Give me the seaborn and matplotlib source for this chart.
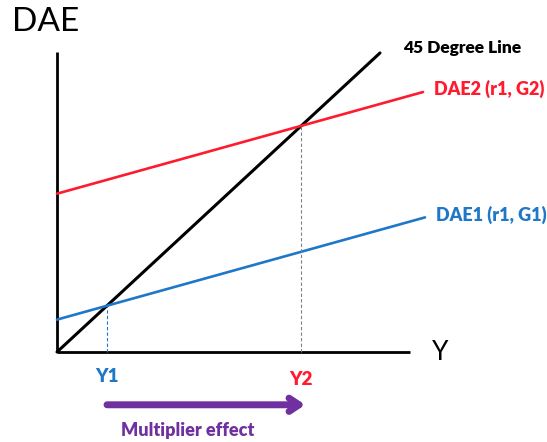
import numpy as np
import pandas as pd
import seaborn as sns
import matplotlib.pyplot as plt

# Keynesian cross: 45 degree line and two aggregate demand lines
slope = 0.3
intercepts = {"DAE1 (r1, G1)": 35, "DAE2 (r1, G2)": 171}
line_colors = {"DAE1 (r1, G1)": "#1f77c8", "DAE2 (r1, G2)": "#ff1a2e"}
x_end = {"DAE1 (r1, G1)": 368, "DAE2 (r1, G2)": 366}
x45_end = 323
x_axis_end = 353
y_axis_end = 324

# equilibrium incomes
Y1 = intercepts["DAE1 (r1, G1)"] / (1 - slope)
Y2 = intercepts["DAE2 (r1, G2)"] / (1 - slope)

sns.set_theme(style="white")
plt.rcParams['font.family'] = ['Lato', 'DejaVu Sans']

fig = plt.figure(figsize=(5.47, 4.42), dpi=100)
ax = fig.add_axes([0, 0, 1, 1])
ax.set_xlim(-57, 490)
ax.set_ylim(-97.2, 380.2)
ax.axis("off")

# axes
ax.plot([0, 0], [0, y_axis_end], color="black", lw=2, solid_capstyle="butt")
ax.plot([0, x_axis_end], [0, 0], color="black", lw=2, solid_capstyle="butt")

# 45 degree line
d45 = pd.DataFrame({"x": [0, x45_end], "y": [0, x45_end]})
sns.lineplot(data=d45, x="x", y="y", color="black", lw=2.2, ax=ax)

for name, a in intercepts.items():
    xs = np.array([0, x_end[name]])
    df = pd.DataFrame({"x": xs, "y": a + slope * xs})
    sns.lineplot(data=df, x="x", y="y", color=line_colors[name], lw=1.9, ax=ax)
    ax.text(x_end[name] + 11, a + slope * x_end[name] + 3, name,
            color=line_colors[name], fontsize=13, fontweight="heavy",
            ha="left", va="center")

ax.text(346, 328, "45 Degree Line", color="black", fontsize=12.5,
        fontweight="heavy", ha="left", va="center")

# dashed guides
ax.plot([Y1, Y1], [0, Y1], color="#1f77c8", lw=0.8, ls=(0, (3, 2)))
ax.plot([Y2, Y2], [0, Y2], color="#808080", lw=0.8, ls=(0, (3, 2)))

ax.text(Y1, -26, "Y1", color="#1f77c8", fontsize=13.5, fontweight="heavy",
        ha="center", va="center")
ax.text(Y2, -30, "Y2", color="#ff1a2e", fontsize=13.5, fontweight="heavy",
        ha="center", va="center")

ax.text(-45, 356, "DAE", color="black", fontsize=24, ha="left", va="center")
ax.text(375, 0, "Y", color="black", fontsize=19, ha="left", va="center")

# multiplier arrow
ax.annotate("", xy=(Y2 + 4, -57), xytext=(Y1, -57),
            arrowprops=dict(arrowstyle="->, head_length=0.6, head_width=0.4",
                            color="#7030a0", lw=5, shrinkA=0, shrinkB=0))
ax.text(131, -85, "Multiplier effect", color="#7030a0", fontsize=13,
        fontweight="heavy", ha="center", va="center")

fig.savefig("out.png", dpi=100)
